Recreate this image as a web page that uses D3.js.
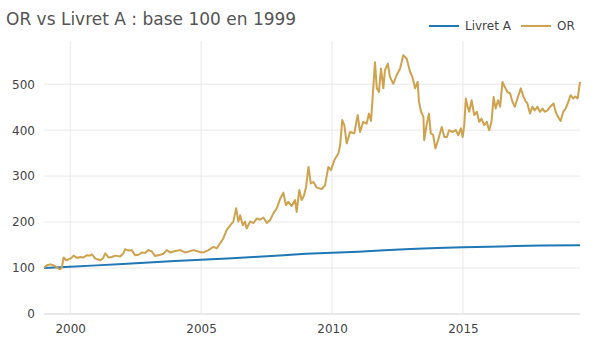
<!DOCTYPE html>
<html>
<head>
<meta charset="utf-8">
<script src="https://cdn.jsdelivr.net/npm/d3@7"></script>
<style>
  html, body { margin: 0; padding: 0; background: #fff; }
  svg { display: block; font-family: "DejaVu Sans", Verdana, sans-serif; }
</style>
</head>
<body>
<svg id="chart" width="600" height="350"></svg>
<script>
// Livret A savings index (base 100 in January 1999), one point per year
const livretYears = [1999, 2000, 2001, 2002, 2003, 2004, 2005, 2006, 2007, 2008, 2009,
  2010, 2011, 2012, 2013, 2014, 2015, 2016, 2017, 2018, 2019.47];
const livretValues = [100, 102.7, 105.8, 109.0, 112.2, 115.2, 118.3, 121.0, 123.9, 127.3, 130.9,
  133.2, 135.6, 138.5, 141.4, 143.5, 145.2, 146.5, 147.7, 148.9, 149.8];

// Gold price in euros (base 100 in January 1999), time as decimal years
const goldYears = [
  1999.00, 1999.11, 1999.24, 1999.36, 1999.43, 1999.55, 1999.62, 1999.68, 1999.75, 1999.85, 1999.94,
  2000.03, 2000.13, 2000.26, 2000.38, 2000.51, 2000.64, 2000.76, 2000.83, 2000.95,
  2001.04, 2001.15, 2001.25, 2001.34, 2001.46, 2001.59, 2001.72, 2001.91,
  2002.03, 2002.10, 2002.23, 2002.35, 2002.48, 2002.61, 2002.74, 2002.86, 2002.99,
  2003.12, 2003.24, 2003.44, 2003.56, 2003.69, 2003.82,
  2004.01, 2004.20, 2004.39, 2004.71, 2004.96,
  2005.09, 2005.28, 2005.47, 2005.60, 2005.73, 2005.85, 2005.98,
  2006.11, 2006.23, 2006.34, 2006.42, 2006.49, 2006.59, 2006.68, 2006.74, 2006.87,
  2007.00, 2007.13, 2007.25, 2007.38, 2007.51, 2007.63, 2007.76, 2007.89,
  2008.02, 2008.14, 2008.24, 2008.33, 2008.46, 2008.59, 2008.65, 2008.75, 2008.84, 2008.93,
  2009.01, 2009.10, 2009.19, 2009.29, 2009.42, 2009.61, 2009.73, 2009.86, 2009.96,
  2010.09, 2010.24, 2010.31, 2010.39, 2010.47, 2010.56, 2010.69, 2010.85, 2010.98,
  2011.07, 2011.19, 2011.32, 2011.41, 2011.49, 2011.54, 2011.64, 2011.71, 2011.79, 2011.87, 2011.96,
  2012.02, 2012.13, 2012.21, 2012.34, 2012.47, 2012.60, 2012.72, 2012.85, 2012.98,
  2013.07, 2013.17, 2013.27, 2013.32, 2013.40, 2013.49, 2013.52, 2013.61, 2013.70, 2013.77, 2013.86, 2013.95,
  2014.05, 2014.19, 2014.29, 2014.39, 2014.47, 2014.60, 2014.73, 2014.82, 2014.92, 2014.99,
  2015.05, 2015.11, 2015.18, 2015.24, 2015.33, 2015.43, 2015.53, 2015.62, 2015.71, 2015.81, 2015.91,
  2016.00, 2016.09, 2016.17, 2016.25, 2016.34, 2016.42, 2016.51, 2016.60, 2016.70, 2016.80, 2016.89, 2016.98,
  2017.08, 2017.21, 2017.31, 2017.40, 2017.46, 2017.56, 2017.65, 2017.74, 2017.84, 2017.94,
  2018.04, 2018.12, 2018.23, 2018.33, 2018.46, 2018.54, 2018.63, 2018.73, 2018.83, 2018.92,
  2019.00, 2019.11, 2019.21, 2019.29, 2019.38, 2019.47
];
const goldValues = [
  100, 106, 108, 106, 104, 99, 97, 101, 123, 117, 119,
  121, 127, 122, 124, 123, 128, 127, 130, 121,
  119, 117, 121, 132, 123, 124, 127, 125,
  132, 141, 138, 139, 128, 129, 134, 133, 139,
  136, 126, 129, 131, 139, 134,
  137, 139, 134, 139, 135,
  134, 139, 146, 143, 154, 165, 183,
  193, 201, 230, 201, 215, 193, 201, 186, 201,
  198, 208, 205, 210, 198, 204, 219, 230,
  251, 264, 237, 244, 235, 248, 222, 270, 248, 258,
  277, 320, 284, 287, 275, 272, 280, 320, 313,
  335, 349, 367, 422, 411, 371, 396, 393, 433,
  396, 418, 414, 436, 420, 462, 548, 491, 483, 534, 491,
  530, 545, 516, 501, 520, 534, 563, 556, 527,
  516, 491, 505, 462, 440, 429, 378, 411, 436, 393, 390, 360,
  378, 407, 385, 385, 400, 396, 400, 389, 404, 385,
  411, 469, 451, 440, 465, 433, 440, 418, 425, 411, 418,
  400, 418, 472, 447, 465, 451, 505, 494, 483, 480, 462, 451,
  469, 491, 473, 462, 458, 436, 451, 443, 451, 440,
  447, 440, 443, 451, 458, 440, 429, 420, 440, 447,
  458, 476, 469, 473, 469, 505
];

const xTicks = [2000, 2005, 2010, 2015];
const yTicks = [0, 100, 200, 300, 400, 500];
const seriesNames = ["Livret A", "OR"];
const seriesColors = ["#1f77b4", "#cfa24e"];
const titleText = "OR vs Livret A : base 100 en 1999";

const margin = { top: 41, right: 20, bottom: 36, left: 44 };
const width = 600, height = 350;
const svg = d3.select("#chart");

const x = d3.scaleLinear()
  .domain([goldYears[0], goldYears[goldYears.length - 1]])
  .range([margin.left, width - margin.right]);
const y = d3.scaleLinear()
  .domain([0, 594])
  .range([height - margin.bottom, margin.top]);

// grid lines
const grid = svg.append("g");
grid.selectAll("line.gx").data(xTicks).join("line")
  .attr("x1", d => x(d)).attr("x2", d => x(d))
  .attr("y1", margin.top).attr("y2", height - margin.bottom)
  .attr("stroke", "#e8e8e8").attr("stroke-width", 1);
grid.selectAll("line.gy").data(yTicks).join("line")
  .attr("x1", margin.left).attr("x2", width - margin.right)
  .attr("y1", d => y(d)).attr("y2", d => y(d))
  .attr("stroke", "#e8e8e8").attr("stroke-width", d => d === 0 ? 2 : 1);

// axes (labels only)
const xAxis = svg.append("g")
  .attr("transform", `translate(0,${height - margin.bottom})`)
  .call(d3.axisBottom(x).tickValues(xTicks).tickFormat(d3.format("d")).tickSize(0).tickPadding(10));
const yAxis = svg.append("g")
  .attr("transform", `translate(${margin.left},0)`)
  .call(d3.axisLeft(y).tickValues(yTicks).tickFormat(d3.format("d")).tickSize(0).tickPadding(9));
[xAxis, yAxis].forEach(a => {
  a.select(".domain").remove();
  a.selectAll("text").attr("fill", "#444").style("font-size", "12px")
    .style("font-family", "'DejaVu Sans', Verdana, sans-serif");
});

// series
const line = d3.line().x(d => x(d[0])).y(d => y(d[1]));
const livret = d3.zip(livretYears, livretValues);
const gold = d3.zip(goldYears, goldValues);
svg.append("path").datum(livret)
  .attr("d", line).attr("fill", "none")
  .attr("stroke", seriesColors[0]).attr("stroke-width", 2).attr("stroke-linejoin", "round");
svg.append("path").datum(gold)
  .attr("d", line).attr("fill", "none")
  .attr("stroke", seriesColors[1]).attr("stroke-width", 2).attr("stroke-linejoin", "round");

// title
svg.append("text")
  .attr("x", 6).attr("y", 25)
  .attr("fill", "#555").style("font-size", "17px")
  .text(titleText);

// legend
const legendX = [429, 521];
const legend = svg.append("g");
seriesNames.forEach((name, i) => {
  legend.append("line")
    .attr("x1", legendX[i]).attr("x2", legendX[i] + 30)
    .attr("y1", 26).attr("y2", 26)
    .attr("stroke", seriesColors[i]).attr("stroke-width", 2);
  legend.append("text")
    .attr("x", legendX[i] + 36).attr("y", 26).attr("dy", "0.35em")
    .attr("fill", "#444").style("font-size", "12px")
    .text(name);
});
</script>
</body>
</html>
